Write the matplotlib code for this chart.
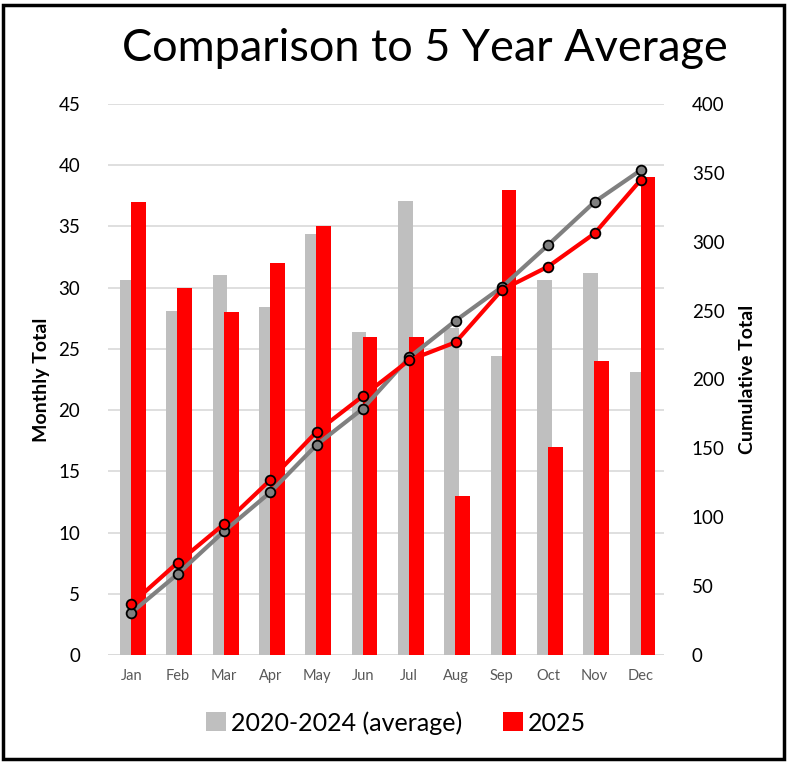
import numpy as np
import matplotlib.pyplot as plt
from matplotlib.patches import Rectangle

months = ['Jan', 'Feb', 'Mar', 'Apr', 'May', 'Jun', 'Jul', 'Aug', 'Sep', 'Oct', 'Nov', 'Dec']
avg = [30.6, 28.1, 31.0, 28.4, 34.4, 26.4, 37.1, 26.7, 24.4, 30.6, 31.2, 23.1]
y2025 = [37, 30, 28, 32, 35, 26, 26, 13, 38, 17, 24, 39]

plt.rcParams['font.family'] = ['Lato', 'DejaVu Sans']

fig = plt.figure(figsize=(7.89, 7.64), dpi=100)
ax = fig.add_axes([0.137, 0.1427, 0.7046, 0.7212])
ax2 = ax.twinx()

x = np.arange(len(months))
w = 0.32
ax.bar(x - 0.085, avg, w, color='#bfbfbf', zorder=2, label='2020-2024 (average)')
ax.bar(x + 0.155, y2025, w, color='#ff0000', zorder=3, label='2025')

ax2.plot(x, np.cumsum(avg), color='#808080', lw=3, marker='o', ms=7,
         mfc='#808080', mec='black', mew=1.3, zorder=4)
ax2.plot(x, np.cumsum(y2025), color='#ff0000', lw=3, marker='o', ms=7,
         mfc='#ff0000', mec='black', mew=1.3, zorder=5)

ax.set_xlim(-0.5, 11.5)
ax.set_ylim(0, 45)
ax.set_yticks(range(0, 46, 5))
ax2.set_ylim(0, 400)
ax2.set_yticks(range(0, 401, 50))
ax.set_xticks(x)
ax.set_xticklabels(months, color='#595959', fontsize=10.5)
ax.grid(axis='y', color='#d9d9d9', lw=1.2, zorder=0)
ax.set_axisbelow(True)
for a in (ax, ax2):
    for s in a.spines.values():
        s.set_visible(False)
    a.tick_params(length=0, labelsize=13.5)
ax.tick_params(axis='y', pad=20)
ax2.tick_params(axis='y', pad=20)
ax.tick_params(axis='x', pad=10, labelsize=10.5)
ax.axhline(0, color='#d9d9d9', lw=1.2, zorder=1)

ax.set_ylabel('Monthly Total', fontsize=14, fontweight='bold', labelpad=6)
ax2.set_ylabel('Cumulative Total', fontsize=14, fontweight='bold', labelpad=10)

fig.text(0.539, 0.937, 'Comparison to 5 Year Average', fontsize=32.5, ha='center', va='center')

fig.legend(loc='center', bbox_to_anchor=(0.502, 0.054), ncol=2, frameon=False,
           fontsize=18, handlelength=0.8, handleheight=0.8, handletextpad=0.2,
           columnspacing=1.6)

fig.patches.append(Rectangle((0.004, 0.007), 0.99, 0.987, transform=fig.transFigure,
                             fill=False, edgecolor='black', lw=2.5))

fig.savefig('out.png', dpi=100)
